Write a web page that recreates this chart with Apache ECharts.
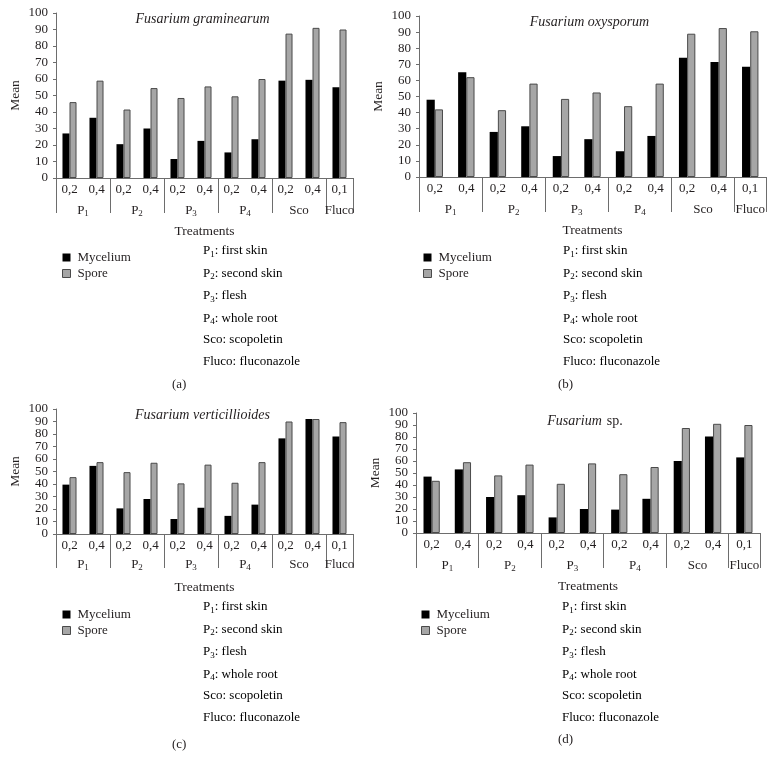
<!DOCTYPE html>
<html>
<head>
<meta charset="utf-8">
<script src="https://cdn.jsdelivr.net/npm/echarts@6/dist/echarts.min.js"></script>
<style>html,body{margin:0;padding:0;background:#fff}#c{width:773px;height:767px}</style>
</head>
<body>
<div id="c"></div>
<script>
// ---- data ----
const categories = ['0,2','0,4','0,2','0,4','0,2','0,4','0,2','0,4','0,2','0,4','0,1'];
const groups = ['P1','P2','P3','P4','Sco','Fluco'];
const groupSizes = [2,2,2,2,2,1];
const yTicks = [0,10,20,30,40,50,60,70,80,90,100];
const titles = ['Fusarium graminearum','Fusarium oxysporum','Fusarium verticillioides','Fusarium sp.'];
const panelLetters = ['(a)','(b)','(c)','(d)'];
const seriesNames = ['Mycelium','Spore'];
const myceliumA = [27, 36.5, 20.5, 30, 11.5, 22.5, 15.5, 23.5, 59, 59.5, 55];
const sporeA    = [46, 59, 41.5, 54.5, 48.5, 55.5, 49.5, 60, 87.5, 91, 90];
const myceliumB = [48, 65, 28, 31.5, 13, 23.5, 16, 25.5, 74, 71.5, 68.5];
const sporeB    = [42, 62, 41.5, 58, 48.5, 52.5, 44, 58, 89, 92.5, 90.5];
const myceliumC = [39.5, 54.5, 20.5, 28, 12, 21, 14.5, 23.5, 76.5, 92, 78];
const sporeC    = [45.5, 57.5, 49.5, 57, 40.5, 55.5, 41, 57.5, 90, 92, 89.5];
const myceliumD = [47, 53, 30, 31.5, 13, 20, 19.5, 28.5, 60, 80.5, 63];
const sporeD    = [43.5, 59, 48, 57, 41, 58, 49, 55, 87.5, 91, 90];
const definitions = ['{p|P}{s|1}{p|: first skin}','{p|P}{s|2}{p|: second skin}','{p|P}{s|3}{p|: flesh}','{p|P}{s|4}{p|: whole root}','{p|Sco: scopoletin}','{p|Fluco: fluconazole}'];

const myceliumAll = [myceliumA, myceliumB, myceliumC, myceliumD];
const sporeAll = [sporeA, sporeB, sporeC, sporeD];

// ---- layout ----
const FONT = 'Liberation Serif';
const TXT = '#231f20';
const AX = '#6d6d6d';
const grids = [
  {left:56, top:13, width:297, height:165},
  {left:419, top:16, width:347, height:161},
  {left:56, top:409, width:297, height:125},
  {left:416, top:413, width:344, height:120}
];
const sepLen = [35, 35, 34, 35];
const catMargin = [5, 5, 5, 5];
const grpMargin = [25, 25, 23, 25];

const bounds = [0];
groupSizes.forEach(s => bounds.push(bounds[bounds.length-1] + s));
const centers = groupSizes.map((s,i) => bounds[i] + s/2);
const evenTicks = yTicks.filter((v, k) => k % 2 === 0);
const oddTicks = yTicks.filter((v, k) => k % 2 === 1);
function groupLabel(v){
  const idx = centers.findIndex(c => Math.abs(c - v) < 1e-6);
  if (idx < 0) return '';
  const g = groups[idx];
  if (/^P\d$/.test(g)) return '{g|P}{s|' + g.slice(1) + '}';
  return '{g|' + g + '}';
}
const subRich = {
  g: {fontFamily: FONT, fontSize: 13, color: TXT, lineHeight: 16},
  s: {fontFamily: FONT, fontSize: 9, color: TXT, lineHeight: 16, padding: [6,0,0,0]}
};

const option = {
  animation: false,
  backgroundColor: '#fff',
  grid: grids.map(g => Object.assign({containLabel:false}, g)),
  title: titles.map((t, i) => ({
    text: t === 'Fusarium sp.' ? '{i|Fusarium} {n|sp.}' : '{i|' + t + '}',
    left: grids[i].left + grids[i].width/2 - 1 - (i % 2 === 0 ? 6 : 7),
    top: grids[i].top - 6,
    textAlign: 'center',
    textStyle: {
      rich: {
        i: {fontFamily: FONT, fontSize: 14, fontStyle: 'italic', fontWeight: 'normal', color: TXT},
        n: {fontFamily: FONT, fontSize: 14, fontWeight: 'normal', color: TXT}
      }
    }
  })),
  legend: grids.map((g, i) => ({
    data: seriesNames.map((n, k) => ({
      name: n,
      icon: 'rect',
      itemStyle: k === 0 ? {color: '#000', borderWidth: 0} : {color: '#a6a6a6', borderColor: '#4a4a4a', borderWidth: 1}
    })),
    orient: 'vertical',
    left: [57, 418, 57, 416][i],
    top: [246, 246, 603, 603][i],
    itemWidth: 8, itemHeight: 8, itemGap: 3,
    textStyle: {fontFamily: FONT, fontSize: 13, color: TXT, padding: [0,0,0,2]},
    selectedMode: false
  })),
  xAxis: [],
  yAxis: [],
  series: [],
  graphic: []
};

const yLabelStyle = {fontFamily: FONT, fontSize: 13, color: TXT, margin: 8, hideOverlap: false};

grids.forEach((g, i) => {
  option.xAxis.push({
    type: 'category', gridIndex: i, data: categories,
    axisLine: {show: true, lineStyle: {color: AX, width: 1}},
    axisTick: {show: false},
    axisLabel: {fontFamily: FONT, fontSize: 13, color: TXT, margin: catMargin[i], interval: 0}
  });
  option.xAxis.push({
    type: 'value', gridIndex: i, min: 0, max: categories.length, position: 'bottom',
    axisLine: {show: false},
    splitLine: {show: false},
    axisTick: {show: true, length: sepLen[i], customValues: bounds, lineStyle: {color: AX, width: 1}},
    axisLabel: {show: true, customValues: centers, formatter: groupLabel, margin: grpMargin[i], rich: subRich},
    name: 'Treatments', nameLocation: 'middle', nameGap: 46,
    nameTextStyle: {fontFamily: FONT, fontSize: 13.5, color: TXT}
  });
  // main y axis: line, ticks, even labels
  option.yAxis.push({
    type: 'value', gridIndex: i, min: 0, max: 100, interval: 10, position: 'left',
    axisLine: {show: true, lineStyle: {color: AX, width: 1}},
    axisTick: {show: true, length: 3, lineStyle: {color: AX}, customValues: yTicks},
    splitLine: {show: false},
    axisLabel: Object.assign({customValues: evenTicks}, yLabelStyle),
    name: 'Mean', nameLocation: 'middle', nameGap: 34, nameRotate: 90,
    nameTextStyle: {fontFamily: FONT, fontSize: 13.5, color: TXT}
  });
  // companion y axis: odd labels only
  option.yAxis.push({
    type: 'value', gridIndex: i, min: 0, max: 100, interval: 10, position: 'left', offset: 0,
    axisLine: {show: false},
    axisTick: {show: false},
    splitLine: {show: false},
    axisLabel: Object.assign({customValues: oddTicks}, yLabelStyle)
  });
  option.series.push({
    name: seriesNames[0], type: 'bar', xAxisIndex: 2*i, yAxisIndex: 2*i,
    data: myceliumAll[i], barGap: '0%', barCategoryGap: '48%',
    itemStyle: {color: '#000'}
  });
  option.series.push({
    name: seriesNames[1], type: 'bar', xAxisIndex: 2*i, yAxisIndex: 2*i,
    data: sporeAll[i], barGap: '0%', barCategoryGap: '48%',
    itemStyle: {color: '#a6a6a6', borderColor: '#4a4a4a', borderWidth: 1}
  });
  // definitions + panel letter
  const defLeft = [203, 563, 203, 562][i];
  const defTop = [243, 243, 599, 599][i];
  definitions.forEach((d, k) => {
    option.graphic.push({
      type: 'text', left: defLeft, top: defTop + k*22.4,
      style: {
        text: d,
        rich: {
          p: {fontFamily: FONT, fontSize: 13, color: TXT, lineHeight: 18},
          s: {fontFamily: FONT, fontSize: 9, color: TXT, lineHeight: 18, padding: [7,0,0,0]}
        }
      }
    });
  });
  option.graphic.push({
    type: 'text', left: [172, 558, 172, 558][i], top: [378, 378, 738, 733][i],
    style: {text: panelLetters[i], font: '13px "' + FONT + '"', fill: TXT}
  });
});

const chart = echarts.init(document.getElementById('c'), null, {renderer: 'canvas'});
chart.setOption(option);
</script>
</body>
</html>
